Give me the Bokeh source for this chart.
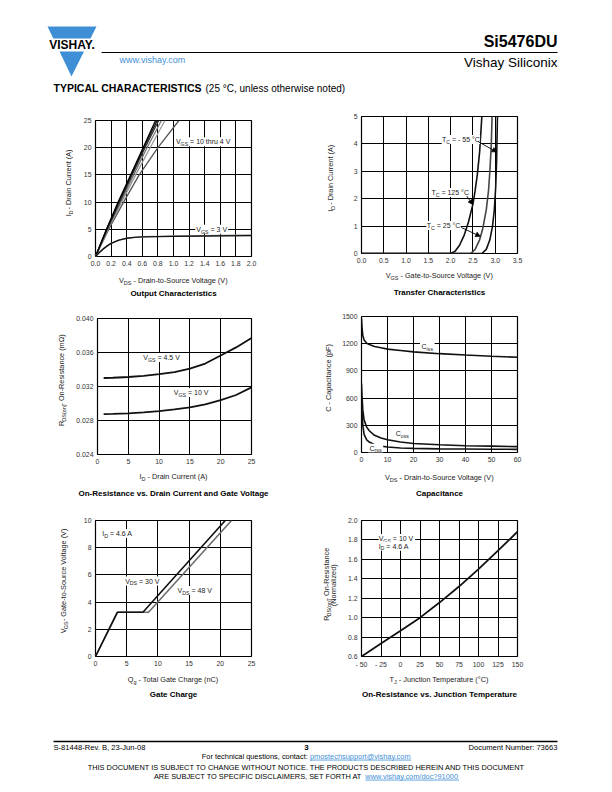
import numpy as np
from bokeh.plotting import figure
from bokeh.models import Range1d, FixedTicker, Label, Arrow, NormalHead, NumeralTickFormatter
from bokeh.layouts import column, row
from bokeh.core.properties import value
from bokeh.embed import file_html
from bokeh.resources import INLINE

FONT = "Liberation Sans"
BLUE = "#3f8fd6"
TXT = "#222222"

# ---------------- data ----------------
# Output characteristics (ID in A, VDS in V)
out_id = [0, 5, 10, 15, 20, 25]
out_vds_10v = [0, 0.14, 0.29, 0.45, 0.61, 0.77]
out_vds_8v = [0, 0.145, 0.30, 0.46, 0.62, 0.79]
out_vds_6v = [0, 0.15, 0.31, 0.47, 0.635, 0.81]
out_vds_5v = [0, 0.155, 0.32, 0.49, 0.66, 0.845]
out_vds_45v = [0, 0.16, 0.335, 0.515, 0.70, 0.89]
out_vds_4v = [0, 0.17, 0.36, 0.56, 0.80, 1.07]
out3_vds = [0, 0.05, 0.1, 0.15, 0.2, 0.3, 0.4, 0.5, 0.6, 0.8, 1.0, 1.4, 2.0]
out3_id = [0, 0.75, 1.4, 1.95, 2.4, 3.0, 3.35, 3.52, 3.6, 3.66, 3.7, 3.76, 3.84]
out3b_id = [0, 0.75, 1.4, 1.95, 2.4, 3.0, 3.35, 3.53, 3.63, 3.71, 3.77, 3.85, 3.95]

# Transfer characteristics (VGS in V, ID in A)
tr125_vgs = [0, 2.0, 2.1, 2.2, 2.3, 2.4, 2.5, 2.55, 2.6, 2.65, 2.7]
tr125_id = [0, 0, 0.08, 0.3, 0.65, 1.15, 1.8, 2.3, 2.9, 3.7, 5.0]
tr25_vgs = [0, 2.45, 2.55, 2.65, 2.72, 2.8, 2.85, 2.88, 2.91, 2.93]
tr25_id = [0, 0, 0.15, 0.5, 0.9, 1.6, 2.3, 3.0, 3.9, 5.0]
trm55_vgs = [0, 2.7, 2.8, 2.88, 2.94, 2.98, 3.01, 3.03, 3.05]
trm55_id = [0, 0, 0.15, 0.5, 1.0, 1.6, 2.4, 3.3, 5.0]

# On-resistance vs drain current (ID in A, RDS in ohm)
ron_id = [1, 2.5, 5, 7.5, 10, 12.5, 15, 17.5, 20, 22.5, 25]
ron_45v = [0.0330, 0.03303, 0.03312, 0.03325, 0.03345, 0.0337, 0.0341, 0.0347, 0.03565, 0.0366, 0.0377]
ron_10v = [0.02875, 0.02877, 0.02885, 0.02895, 0.0291, 0.0293, 0.02955, 0.0299, 0.0304, 0.0310, 0.0319]

# Capacitance (VDS in V, C in pF)
cap_vds = [0, 0.2, 0.5, 1, 2, 3, 5, 7.5, 10, 15, 20, 30, 40, 50, 60]
cap_ciss = [1480, 1380, 1290, 1240, 1205, 1190, 1170, 1155, 1140, 1125, 1110, 1090, 1075, 1062, 1050]
cap_coss = [760, 620, 470, 360, 280, 240, 190, 160, 140, 115, 100, 85, 75, 70, 65]
cap_crss = [620, 450, 300, 200, 140, 115, 85, 70, 60, 50, 45, 40, 38, 36, 35]

# Gate charge (Qg in nC, VGS in V)
gc30_q = [0, 3.5, 7.6, 20.8]
gc30_v = [0, 3.25, 3.25, 10]
gc48_q = [0, 3.5, 8.5, 21.8]
gc48_v = [0, 3.25, 3.25, 10]

# Normalized on-resistance vs junction temperature
tj = [-50, -25, 0, 25, 50, 75, 100, 125, 150]
rn = [0.60, 0.735, 0.865, 1.0, 1.155, 1.32, 1.50, 1.69, 1.885]

# ticks
c1_xt = [0, 0.2, 0.4, 0.6, 0.8, 1.0, 1.2, 1.4, 1.6, 1.8, 2.0]
c1_yt = [0, 5, 10, 15, 20, 25]
c2_xt = [0, 0.5, 1.0, 1.5, 2.0, 2.5, 3.0, 3.5]
c2_yt = [0, 1, 2, 3, 4, 5]
c3_xt = [0, 5, 10, 15, 20, 25]
c3_yt = [0.024, 0.028, 0.032, 0.036, 0.040]
c4_xt = [0, 10, 20, 30, 40, 50, 60]
c4_yt = [0, 300, 600, 900, 1200, 1500]
c5_xt = [0, 5, 10, 15, 20, 25]
c5_yt = [0, 2, 4, 6, 8, 10]
c6_xt = [-50, -25, 0, 25, 50, 75, 100, 125, 150]
c6_yt = [0.6, 0.8, 1.0, 1.2, 1.4, 1.6, 1.8, 2.0]

# ---------------- helpers ----------------
CW = {' ': 278, '!': 278, '(': 333, ')': 333, '-': 333, '.': 278, '/': 278, ',': 278, ':': 278,
      '=': 584, '?': 556, '@': 1015, '°': 400, 'Ω': 768}
for c in '0123456789':
    CW[c] = 556
CW.update(dict(A=667, B=667, C=722, D=722, E=667, F=611, G=778, H=722, I=278, J=500, K=667, L=556,
               M=833, N=722, O=778, P=667, Q=778, R=722, S=667, T=611, U=722, V=667, W=944, X=667,
               Y=667, Z=611))
CW.update(dict(a=556, b=556, c=500, d=556, e=556, f=278, g=556, h=556, i=222, j=222, k=500, l=222,
               m=833, n=556, o=556, p=556, q=556, r=333, s=500, t=278, u=556, v=500, w=722, x=500,
               y=500, z=500))


def tw(s, fs):
    return sum(CW.get(c, 556) for c in s) * fs / 1000.0


def layout_runs(runs, fs, align):
    sfs = fs * 0.75
    out = []
    ws = [tw(t, sfs if s else fs) for t, s in runs]
    total = sum(ws)
    pos = -total / 2 if align == "center" else 0.0
    for (t, s), w in zip(runs, ws):
        f = sfs if s else fs
        lead = len(t) - len(t.lstrip(" "))
        out.append((t.strip(" "), f, pos + tw(t[:lead], f), fs * 0.32 if s else 0.0))
        pos += w
    return out


def rich_label(p, runs, x, y, fs, align="center", color=TXT, bg=False):
    """In-plot label made of (text, is_subscript) runs anchored at a data point."""
    if bg:
        plain = "".join(t for t, s in runs)
        p.add_layout(Label(x=x, y=y, text=plain, text_color="white", text_font=FONT,
                           text_font_size=f"{fs * 0.93:.2f}px", text_align=align,
                           text_baseline="middle", background_fill_color="white",
                           background_fill_alpha=1.0, padding=1))
    for t, f, off, sh in layout_runs(runs, fs, align):
        p.add_layout(Label(x=x, y=y, x_offset=off, y_offset=-sh, text=t, text_font=FONT,
                           text_font_size=f"{f:.2f}px", text_align="left",
                           text_baseline="middle", text_color=color))


def rich_text(p, runs, cx, cy, fs, angle=0.0, color=TXT):
    """Text glyph runs in a pixel-unit strip figure."""
    for t, f, off, sh in layout_runs(runs, fs, "center"):
        if angle == 0:
            x, y = cx + off, cy - sh
        else:
            x, y = cx + sh, cy + off
        p.text(x=[x], y=[y], text=[t], angle=angle, text_font=value(FONT),
               text_font_size=f"{f:.2f}px", text_align="left", text_baseline="middle",
               text_color=color)


def strip(w, h):
    s = figure(width=w, height=h, x_range=Range1d(0, w), y_range=Range1d(0, h),
               toolbar_location=None, output_backend="svg", x_axis_type=None, y_axis_type=None,
               min_border_left=0, min_border_right=0, min_border_top=0, min_border_bottom=0)
    s.outline_line_color = None
    s.grid.visible = False
    return s


AXFS = 7.3
TFS = 8.0
LFS = 7.0
TICKB = 14   # space under frame for tick labels
TICKL = 22   # space left of frame for tick labels


def cell(W, L, R, T, FH, B, xr, yr, xt, yt, ylab, xlab, title, ylx, xld, tld):
    fig_w = W - (L - TICKL)
    fig_h = T + FH + TICKB
    p = figure(width=fig_w, height=fig_h, x_range=Range1d(*xr), y_range=Range1d(*yr),
               toolbar_location=None, output_backend="svg",
               min_border_left=TICKL, min_border_right=R, min_border_top=T,
               min_border_bottom=TICKB)
    p.xaxis.ticker = FixedTicker(ticks=xt)
    p.yaxis.ticker = FixedTicker(ticks=yt)
    p.xgrid.ticker = FixedTicker(ticks=xt)
    p.ygrid.ticker = FixedTicker(ticks=yt)
    for ax in (p.xaxis, p.yaxis):
        ax.major_tick_out = 0
        ax.major_tick_in = 0
        ax.minor_tick_out = 0
        ax.minor_tick_in = 0
        ax.axis_line_color = None
        ax.major_label_text_font = FONT
        ax.major_label_text_font_size = "6.9px"
        ax.major_label_text_color = "#333333"
        ax.major_label_standoff = 4
    p.grid.grid_line_color = "black"
    p.grid.grid_line_width = 1
    p.outline_line_color = "black"
    p.outline_line_width = 1.2
    p.border_fill_color = "white"

    ls = strip(L - TICKL, fig_h)
    if isinstance(ylab[0], list):
        for lab, xx in zip(ylab, ylx):
            rich_text(ls, lab, xx, TICKB + FH / 2, AXFS, angle=np.pi / 2)
    else:
        rich_text(ls, ylab, ylx, TICKB + FH / 2, AXFS, angle=np.pi / 2)

    bh = B - TICKB
    bs = strip(W, bh)
    fw = W - L - R
    rich_text(bs, xlab, L + fw / 2, bh - (xld - TICKB), AXFS)
    bs.text(x=[L + fw / 2], y=[bh - (tld - TICKB)], text=[title], text_font=value(FONT),
            text_font_size=f"{TFS}px", text_font_style="bold", text_align="center",
            text_baseline="middle", text_color="black")
    return p, column(row(ls, p, spacing=0), bs, spacing=0)


def arrow(p, xs, ys, xe, ye):
    p.add_layout(Arrow(end=NormalHead(size=5, fill_color="black", line_color="black", line_width=0.5),
                       x_start=xs, y_start=ys, x_end=xe, y_end=ye, line_color="black", line_width=0.9))


# ---------------- chart 1: output characteristics ----------------
p1, cell1 = cell(292, 87, 49, 12, 136, 49, (0, 2.0), (0, 25), c1_xt, c1_yt,
                 [("I", 0), ("D", 1), (" - Drain Current (A)", 0)],
                 [("V", 0), ("DS", 1), (" - Drain-to-Source Voltage (V)", 0)],
                 "Output Characteristics", 60, 24, 37)
p1.xaxis.formatter = NumeralTickFormatter(format="0.0")
for vds, col in [(out_vds_4v, "#555555"), (out_vds_45v, "#9a9a9a"), (out_vds_5v, "#777777"),
                 (out_vds_6v, "#333333"), (out_vds_8v, "#1a1a1a"), (out_vds_10v, "#000000")]:
    p1.line(vds, out_id, line_color=col, line_width=1.3)
p1.line(out3_vds, out3b_id, line_color="#999999", line_width=1.3)
p1.line(out3_vds, out3_id, line_color="#111111", line_width=1.4)
rich_label(p1, [("V", 0), ("GS", 1), (" = 10 thru 4 V", 0)], 1.38, 21.1, LFS, bg=True)
rich_label(p1, [("V", 0), ("GS", 1), (" = 3 V", 0)], 1.49, 5.0, LFS, bg=True)

# ---------------- chart 2: transfer characteristics ----------------
p2, cell2 = cell(304, 61, 87, 8, 137, 52, (0, 3.5), (0, 5), c2_xt, c2_yt,
                 [("I", 0), ("D", 1), (" - Drain Current (A)", 0)],
                 [("V", 0), ("GS", 1), (" - Gate-to-Source Voltage (V)", 0)],
                 "Transfer Characteristics", 30, 22, 39)
p2.xaxis.formatter = NumeralTickFormatter(format="0.0")
p2.line(tr125_vgs, tr125_id, line_color="#111111", line_width=1.6)
p2.line(tr25_vgs, tr25_id, line_color="#444444", line_width=1.6)
p2.line(trm55_vgs, trm55_id, line_color="#111111", line_width=1.6)
rich_label(p2, [("T", 0), ("C", 1), (" = - 55 °C", 0)], 2.23, 4.16, LFS, bg=True)
rich_label(p2, [("T", 0), ("C", 1), (" = 125 °C", 0)], 1.99, 2.23, LFS, bg=True)
rich_label(p2, [("T", 0), ("C", 1), (" = 25 °C", 0)], 1.84, 1.02, LFS, bg=True)
arrow(p2, 2.62, 4.08, 3.04, 3.7)
arrow(p2, 2.36, 2.1, 2.5, 1.78)
arrow(p2, 2.24, 0.95, 2.67, 0.62)

# ---------------- chart 3: on-resistance vs drain current ----------------
p3, cell3 = cell(292, 87, 49, 13, 136, 51, (0, 25), (0.024, 0.040), c3_xt, c3_yt,
                 [("R", 0), ("DS(on)", 1), (" - On-Resistance (mΩ)", 0)],
                 [("I", 0), ("D", 1), (" - Drain Current (A)", 0)],
                 "On-Resistance vs. Drain Current and Gate Voltage", 53, 22, 39)
p3.yaxis.formatter = NumeralTickFormatter(format="0.000")
p3.line(ron_id, ron_45v, line_color="#111111", line_width=1.8)
p3.line(ron_id, ron_10v, line_color="#111111", line_width=1.8)
rich_label(p3, [("V", 0), ("GS", 1), (" = 4.5 V", 0)], 10.4, 0.0354, LFS, bg=True)
rich_label(p3, [("V", 0), ("GS", 1), (" = 10 V", 0)], 15.2, 0.0313, LFS, bg=True)

# ---------------- chart 4: capacitance ----------------
p4, cell4 = cell(304, 61, 87, 11, 136, 53, (0, 60), (0, 1500), c4_xt, c4_yt,
                 [("C - Capacitance (pF)", 0)],
                 [("V", 0), ("DS", 1), (" - Drain-to-Source Voltage (V)", 0)],
                 "Capacitance", 28, 25, 41)
p4.line(cap_vds, cap_ciss, line_color="#111111", line_width=1.6)
p4.line(cap_vds, cap_coss, line_color="#111111", line_width=1.6)
p4.line(cap_vds, cap_crss, line_color="#111111", line_width=1.6)
rich_label(p4, [("C", 0), ("iss", 1)], 25.3, 1170, LFS, bg=True)
rich_label(p4, [("C", 0), ("oss", 1)], 15.7, 212, LFS, bg=True)
rich_label(p4, [("C", 0), ("rss", 1)], 5.4, 47, LFS, bg=True)

# ---------------- chart 5: gate charge ----------------
p5, cell5 = cell(292, 87, 49, 15, 136, 49, (0, 25), (0, 10), c5_xt, c5_yt,
                 [("V", 0), ("GS", 1), (" - Gate-to-Source Voltage (V)", 0)],
                 [("Q", 0), ("g", 1), (" - Total Gate Charge (nC)", 0)],
                 "Gate Charge", 55, 23, 38)
p5.line(gc48_q, gc48_v, line_color="#6e6e6e", line_width=1.6)
p5.line(gc30_q, gc30_v, line_color="#111111", line_width=1.6)
rich_label(p5, [("I", 0), ("D", 1), (" = 4.6 A", 0)], 3.5, 9.05, LFS, bg=True)
rich_label(p5, [("V", 0), ("DS", 1), (" = 30 V", 0)], 7.5, 5.55, LFS, bg=True)
rich_label(p5, [("V", 0), ("DS", 1), (" = 48 V", 0)], 15.9, 4.85, LFS, bg=True)

# ---------------- chart 6: on-resistance vs junction temperature ----------------
p6, cell6 = cell(304, 61, 87, 15, 136, 49, (-50, 150), (0.6, 2.0), c6_xt, c6_yt,
                 [[("R", 0), ("DS(on)", 1), (" - On-Resistance", 0)], [("(Normalized)", 0)]],
                 [("T", 0), ("J", 1), (" - Junction Temperature (°C)", 0)],
                 "On-Resistance vs. Junction Temperature", [26, 33], 23, 38)
p6.yaxis.formatter = NumeralTickFormatter(format="0.0")
p6.xaxis.major_label_overrides = {-50: "- 50", -25: "- 25"}
p6.line(tj, rn, line_color="#111111", line_width=1.8)
rich_label(p6, [("V", 0), ("GS", 1), (" = 10 V", 0)], -28, 1.815, LFS, align="left", bg=True)
rich_label(p6, [("I", 0), ("D", 1), (" = 4.6 A", 0)], -28, 1.735, LFS, align="left", bg=True)

# ---------------- header ----------------
hdr = figure(width=596, height=100, x_range=Range1d(0, 596), y_range=Range1d(100, 0),
             toolbar_location=None, output_backend="svg", x_axis_type=None, y_axis_type=None,
             min_border_left=0, min_border_right=0, min_border_top=0, min_border_bottom=0)
hdr.outline_line_color = None
hdr.grid.visible = False
hdr.patches(xs=[[39, 88, 82, 44.8], [51, 75.5, 63]], ys=[[18, 18, 30, 30], [43, 43, 68]],
            fill_color=BLUE, line_color=None)
hdr.text(x=[63.5], y=[36.5], text=["VISHAY."], text_font=value(FONT), text_font_size="12px",
         text_font_style="bold", text_align="center", text_baseline="middle", text_color="black")
hdr.line(x=[93, 549], y=[44, 44], line_color="black", line_width=1.2)
hdr.text(x=[549], y=[33], text=["Si5476DU"], text_font=value(FONT), text_font_size="16px",
         text_font_style="bold", text_align="right", text_baseline="middle", text_color="black")
hdr.text(x=[549], y=[53.5], text=["Vishay Siliconix"], text_font=value(FONT), text_font_size="13.5px",
         text_align="right", text_baseline="middle", text_color="black")
hdr.text(x=[111], y=[51], text=["www.vishay.com"], text_font=value(FONT), text_font_size="9px",
         text_align="left", text_baseline="middle", text_color=BLUE)
hdr.text(x=[45], y=[79.5], text=["TYPICAL CHARACTERISTICS"], text_font=value(FONT),
         text_font_size="10.5px", text_font_style="bold", text_align="left", text_baseline="middle",
         text_color="black")
hdr.text(x=[197], y=[79.5], text=["(25 °C, unless otherwise noted)"], text_font=value(FONT),
         text_font_size="10px", text_align="left", text_baseline="middle", text_color="black")

# ---------------- footer ----------------
ftr = figure(width=596, height=79, x_range=Range1d(0, 596), y_range=Range1d(79, 0),
             toolbar_location=None, output_backend="svg", x_axis_type=None, y_axis_type=None,
             min_border_left=0, min_border_right=0, min_border_top=0, min_border_bottom=0)
ftr.outline_line_color = None
ftr.grid.visible = False
ftr.line(x=[45, 549], y=[36, 36], line_color="black", line_width=1.3)
FFS = 7.6
ftr.text(x=[45], y=[41.5], text=["S-81448-Rev. B, 23-Jun-08"], text_font=value(FONT),
         text_font_size=f"{FFS}px", text_align="left", text_baseline="middle", text_color="black")
ftr.text(x=[298], y=[41.5], text=["3"], text_font=value(FONT), text_font_size="8px",
         text_font_style="bold", text_align="center", text_baseline="middle", text_color="black")
ftr.text(x=[549], y=[41.5], text=["Document Number: 73663"], text_font=value(FONT),
         text_font_size=f"{FFS}px", text_align="right", text_baseline="middle", text_color="black")


def linked(fig, y, plain, link, fs):
    w1 = tw(plain, fs)
    w2 = tw(link, fs)
    x0 = 298 - (w1 + w2) / 2
    fig.text(x=[x0], y=[y], text=[plain.rstrip()], text_font=value(FONT), text_font_size=f"{fs}px",
             text_align="left", text_baseline="middle", text_color="black")
    fig.text(x=[x0 + w1], y=[y], text=[link], text_font=value(FONT), text_font_size=f"{fs}px",
             text_align="left", text_baseline="middle", text_color=BLUE)
    fig.line(x=[x0 + w1, x0 + w1 + w2], y=[y + fs * 0.55, y + fs * 0.55], line_color=BLUE,
             line_width=0.8)


linked(ftr, 50.5, "For technical questions, contact: ", "pmostechsupport@vishay.com", 7.4)
ftr.text(x=[298], y=[61.5],
         text=["THIS DOCUMENT IS SUBJECT TO CHANGE WITHOUT NOTICE. THE PRODUCTS DESCRIBED HEREIN AND THIS DOCUMENT"],
         text_font=value(FONT), text_font_size="7.4px", text_align="center", text_baseline="middle",
         text_color="black")
linked(ftr, 70.5, "ARE SUBJECT TO SPECIFIC DISCLAIMERS, SET FORTH AT ", "www.vishay.com/doc?91000", 7.4)

layout = column(hdr, row(cell1, cell2, spacing=0), row(cell3, cell4, spacing=0),
                row(cell5, cell6, spacing=0), ftr, spacing=0, margin=(8, 0, 0, 8))
open("out.html", "w").write(file_html(layout, INLINE))
